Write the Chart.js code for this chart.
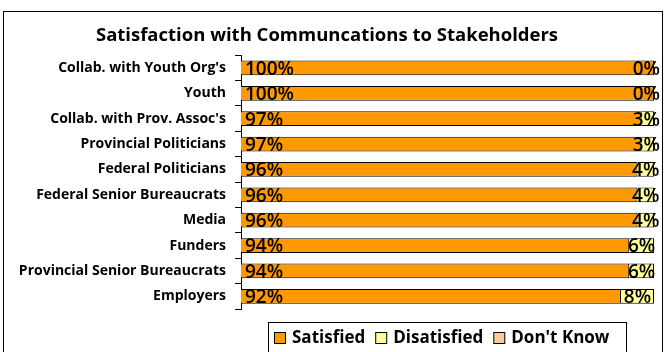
<!DOCTYPE html>
<html>
<head>
<meta charset="utf-8">
<script src="https://cdn.jsdelivr.net/npm/chart.js@4/dist/chart.umd.min.js"></script>
<style>
  body { margin: 0; background: #fff; }
  #wrap { width: 668px; height: 352px; }
</style>
</head>
<body>
<div id="wrap"><canvas id="canvas" width="668" height="352"></canvas></div>
<script>
var groups = ["Collab. with Youth Org's", 'Youth', "Collab. with Prov. Assoc's", 'Provincial Politicians',
    'Federal Politicians', 'Federal Senior Bureaucrats', 'Media', 'Funders',
    'Provincial Senior Bureaucrats', 'Employers'];
var satisfied = [100, 100, 97, 97, 96, 96, 96, 94, 94, 92];
var disatisfied = [0, 0, 3, 3, 4, 4, 4, 6, 6, 8];
var dontKnow = [0, 0, 0, 0, 0, 0, 0, 0, 0, 0];
var seriesNames = ['Satisfied', 'Disatisfied', "Don't Know"];
var seriesColors = ['#FF9900', '#FFFF99', '#FFCC99'];

var FONT = '"Open Sans", sans-serif';

// value labels like the Excel original
var labelPlugin = {
    id: 'valueLabels',
    afterDatasetsDraw: function(chart) {
        var ctx = chart.ctx;
        var area = chart.chartArea;
        ctx.save();
        ctx.font = '600 19px ' + FONT;
        ctx.fillStyle = '#000';
        ctx.textBaseline = 'middle';
        chart.getDatasetMeta(0).data.forEach(function(bar, i) {
            ctx.textAlign = 'left';
            ctx.fillText(satisfied[i] + '%', bar.base + 4, bar.y + 1.5);
        });
        chart.getDatasetMeta(1).data.forEach(function(bar, i) {
            var txt = disatisfied[i] + '%';
            var w = ctx.measureText(txt).width;
            var cx = (bar.base + bar.x) / 2;
            var right = Math.min(cx + w / 2, area.right + 6);
            ctx.textAlign = 'right';
            ctx.fillText(txt, right, bar.y + 1.5);
        });
        ctx.restore();
    }
};

// outer frame and legend box
var framePlugin = {
    id: 'frame',
    afterDraw: function(chart) {
        var ctx = chart.ctx;
        ctx.save();
        ctx.strokeStyle = '#000';
        ctx.lineWidth = 1;
        ctx.strokeRect(3.5, 11.5, 659, 360);

        ctx.strokeRect(268.5, 322.5, 358, 40);
        ctx.font = 'bold 17px ' + FONT;
        ctx.textBaseline = 'middle';
        ctx.textAlign = 'left';
        var x = 274;
        var y = 338;
        seriesNames.forEach(function(name, i) {
            ctx.fillStyle = seriesColors[i];
            ctx.fillRect(x + 0.5, y - 5.5, 11, 11);
            ctx.strokeStyle = '#000';
            ctx.strokeRect(x + 0.5, y - 5.5, 11, 11);
            ctx.fillStyle = '#000';
            ctx.fillText(name, x + 18, y);
            x += 18 + ctx.measureText(name).width + 10;
        });
        ctx.restore();
    }
};

var ctx = document.getElementById('canvas').getContext('2d');
var myChart = new Chart(ctx, {
    type: 'bar',
    data: {
        labels: groups,
        datasets: [satisfied, disatisfied, dontKnow].map(function(d, i) {
            return {
                label: seriesNames[i],
                data: d,
                backgroundColor: seriesColors[i],
                borderColor: '#000',
                borderWidth: i == 2 ? 0 : 1,
                barPercentage: 0.58,
                categoryPercentage: 1
            };
        })
    },
    options: {
        indexAxis: 'y',
        responsive: false,
        animation: false,
        layout: { padding: { left: 0, right: 14, top: 0, bottom: 43 } },
        plugins: {
            legend: { display: false },
            tooltip: { enabled: false },
            title: {
                display: true,
                text: 'Satisfaction with Communcations to Stakeholders',
                color: '#000',
                font: { family: FONT, size: 18.5, weight: 'bold' },
                padding: { top: 25, bottom: 8 }
            }
        },
        scales: {
            x: {
                stacked: true,
                display: false,
                min: 0,
                max: 100
            },
            y: {
                stacked: true,
                afterFit: function(s) { s.width = 241; },
                grid: {
                    offset: true,
                    drawOnChartArea: false,
                    tickLength: 6,
                    color: '#000'
                },
                border: { display: true, color: '#000' },
                ticks: {
                    color: '#000',
                    padding: 9,
                    font: { family: FONT, size: 14, weight: 'bold' }
                }
            }
        }
    },
    plugins: [labelPlugin, framePlugin]
});
</script>
</body>
</html>
